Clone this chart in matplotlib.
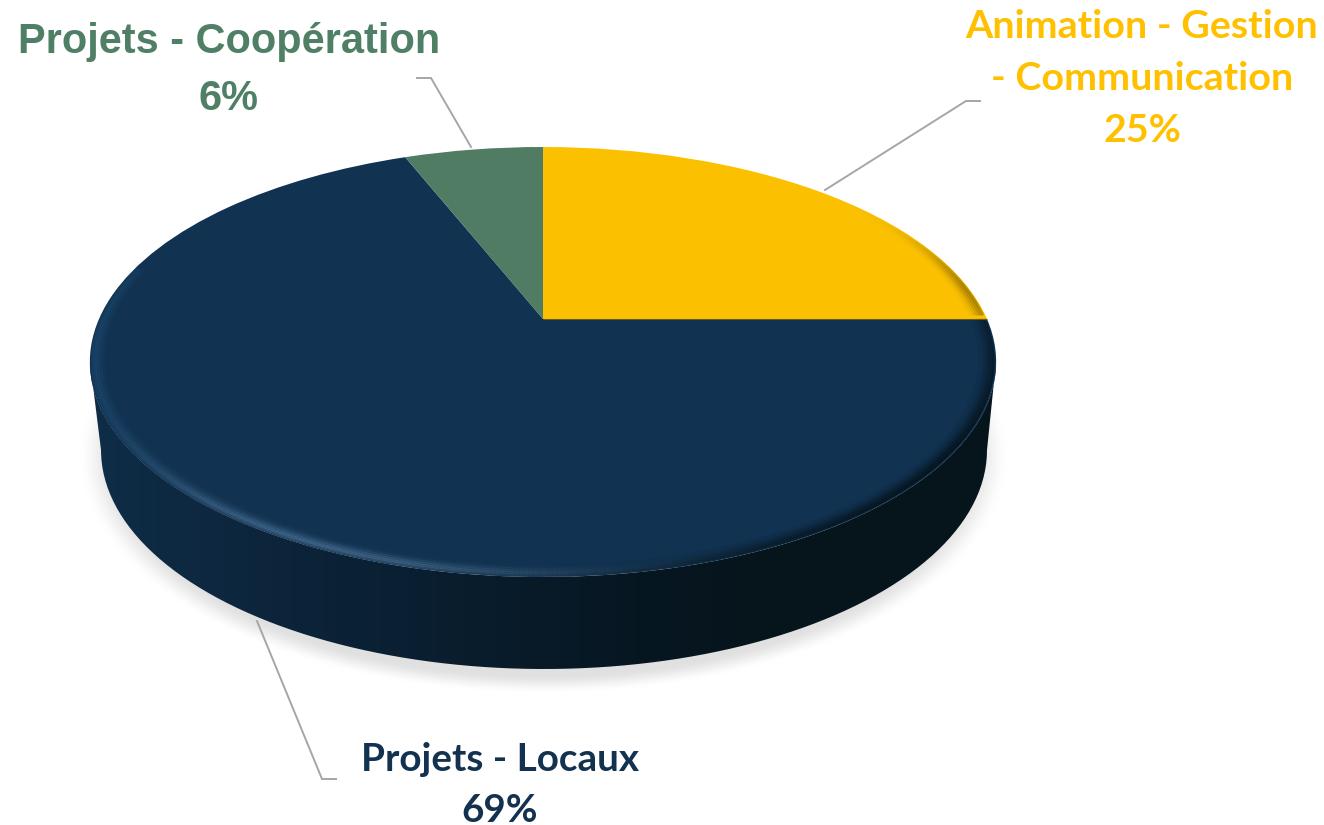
import numpy as np
import matplotlib
matplotlib.use('Agg')
import matplotlib.pyplot as plt
from matplotlib.collections import LineCollection
from matplotlib.colors import LinearSegmentedColormap, to_rgb
from matplotlib.patches import PathPatch
from matplotlib.path import Path
from matplotlib.transforms import Transform

W, H = 1324, 825

categories = ['Projets - Locaux', 'Projets - Coopération', 'Animation - Gestion', '- Communication']
values = [69, 6, 25]
percent_labels = ['69%', '6%', '25%']
colors = ['#113250', '#4f7c63', '#fbc100']
text_colors = ['#12324f', '#4f7f65', '#ffc000']

# pie centre and perspective, in pixels
cx, cy = 543, 319
ax_x, ax_y, tilt = 444, 206.4, 0.2


class Tilt(Transform):
    """Unit circle to the tilted disc, in image pixels."""
    input_dims = output_dims = 2
    is_separable = False
    has_inverse = False

    def transform_non_affine(self, xy):
        xy = np.asarray(xy, dtype=float)
        w = 1 + tilt * xy[:, 1]
        return np.column_stack([cx + ax_x * xy[:, 0] / w, cy - ax_y * xy[:, 1] / w])


fig = plt.figure(figsize=(W / 100, H / 100), dpi=100)
ax = fig.add_axes([0, 0, 1, 1])
tilted = Tilt() + ax.transData

# shadow under the disc
yy, xx = np.mgrid[0:H, 0:W]
dist = np.sqrt(((xx - 543) / 445) ** 2 + ((yy - 455) / 228) ** 2)
shade = np.clip((1.045 - dist) / 0.085, 0, 1)
shade = shade * shade * (3 - 2 * shade)
rgba = np.zeros((H, W, 4))
rgba[..., :3] = 0.86
rgba[..., 3] = shade * 0.85
ax.imshow(rgba, extent=(0, W, H, 0), zorder=1, aspect='auto', interpolation='bilinear')

# side of the disc
t = np.linspace(np.pi, 2 * np.pi, 200)
top_edge = np.column_stack([543 + 453 * np.cos(t), 362 - 215 * np.sin(t)])
low_edge = np.column_stack([544 + 443 * np.cos(t), 450 - 219 * np.sin(t)])
side = np.vstack([top_edge, low_edge[::-1]])
side_patch = PathPatch(Path(side), fc='none', ec='none', transform=ax.transData)
ax.add_patch(side_patch)
side_cmap = LinearSegmentedColormap.from_list(
    'side', [(0, '#0f2d47'), (0.12, '#0d2840'), (0.35, '#0a1f31'),
             (0.6, '#071722'), (0.75, '#06141b'), (1, '#06151c')])
grad = ax.imshow(np.linspace(0, 1, 256)[None, :], cmap=side_cmap, extent=(90, 997, 700, 300),
                 aspect='auto', zorder=2)
grad.set_clip_path(side_patch)

# top of the disc
wedges, _ = ax.pie(values, colors=colors, startangle=0, counterclock=True,
                   wedgeprops={'linewidth': 0}, normalize=True, radius=1, frame=True)
order = [2, 1, 0]
angle = 0
for i in order:
    sweep = 360 * values[i] / sum(values)
    wedges[i].set_theta1(angle)
    wedges[i].set_theta2(angle + sweep)
    wedges[i].set_transform(tilted)
    wedges[i].set_zorder(3)
    wedges[i].set_clip_on(False)
    angle += sweep

# soft rim on the top surface
a = np.radians(np.linspace(0, 360, 721))
mid = (a[:-1] + a[1:]) / 2
mid_deg = np.degrees(mid)


def bump(center, width):
    d = (mid_deg - center + 180) % 360 - 180
    return np.exp(-(d / width) ** 2)


light = bump(245, 30) * (mid_deg > 180)
glow = bump(190, 26) * (mid_deg > 165)
dark = bump(325, 45) * (mid_deg > 180)
yellow_edge = bump(6, 14) * (mid_deg > 1) * (mid_deg < 40) * 0.5
rings = [(0.994, 0.75, 1.0), (0.988, 1.0, 0.85), (0.982, 0.75, 0.6),
         (0.976, 0.45, 0.35), (0.97, 0.22, 0.15), (0.964, 0.08, 0.06)]
for r, w_light, w_dark in rings:
    pts = np.column_stack([r * np.cos(a), r * np.sin(a)])
    seg = np.stack([pts[:-1], pts[1:]], axis=1)
    for rim_col, rim_a in [('#4a7094', light * 0.75 * w_light), ('#1c4a70', glow * 0.7 * w_light),
                           ('#05121a', dark * 0.9 * w_dark), ('#6b5300', yellow_edge * w_dark)]:
        col = np.zeros((len(seg), 4))
        col[:, :3] = to_rgb(rim_col)
        col[:, 3] = rim_a
        ax.add_collection(LineCollection(seg, colors=col, linewidths=2.0, transform=tilted,
                                         zorder=4, capstyle='butt'))

# thin dark seam between yellow and navy
ax.add_collection(LineCollection([[(0, 0), (1, 0)]], colors=['#6b5a20'], linewidths=0.8,
                                 transform=tilted, zorder=4))

# leader lines
leaders = [
    ([257, 322, 336], [621, 779, 779]),
    ([471, 431, 417], [147, 78, 78]),
    ([825, 966, 980], [190, 101, 101]),
]
for lx, ly in leaders:
    ax.plot(lx, ly, color='#a6a6a6', lw=1.4, zorder=5, solid_joinstyle='miter')

arial = 'Liberation Sans'
calibri = 'Lato'
labels = [
    (229, 53, categories[1], text_colors[1], arial, 29.9),
    (229, 110, percent_labels[1], text_colors[1], arial, 29.9),
    (1142, 38, categories[2], text_colors[2], calibri, 28.4),
    (1142, 90, categories[3], text_colors[2], calibri, 28.4),
    (1142, 142, percent_labels[2], text_colors[2], calibri, 28.4),
    (500, 771, categories[0], text_colors[0], calibri, 27.8),
    (500, 822, percent_labels[0], text_colors[0], calibri, 27.8),
]
for lx, ly, txt, col, fam, size in labels:
    ax.text(lx, ly, txt, color=col, fontsize=size, fontweight='bold', family=fam,
            ha='center', va='baseline', zorder=6)

ax.set_aspect('auto')
ax.set_xlim(0, W)
ax.set_ylim(H, 0)
ax.axis('off')
fig.savefig('out.png', dpi=100)
